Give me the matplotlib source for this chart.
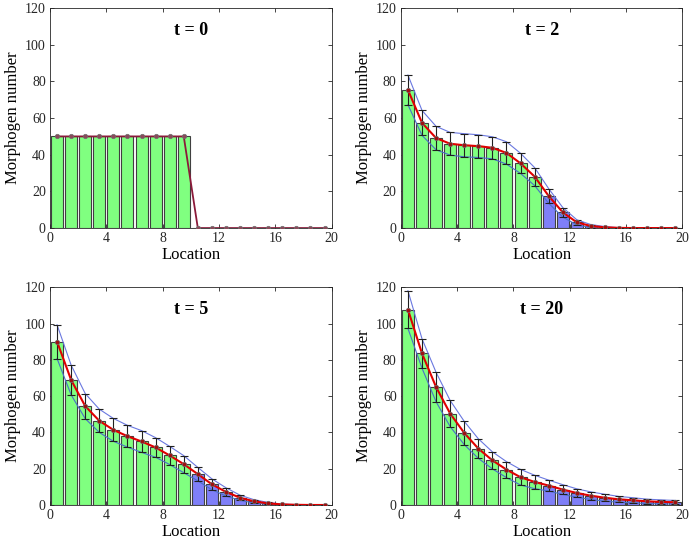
import matplotlib

matplotlib.use("Agg")

import matplotlib.pyplot as plt
import numpy as np

plt.rcParams["font.family"] = ["Liberation Serif", "DejaVu Serif"]

location = np.arange(20) + 0.5
n_green = 10

titles = ["t = 0", "t = 2", "t = 5", "t = 20"]

mean_t0 = [50] * 10 + [0] * 10
sd_t0 = [0] * 20

mean_t2 = [75.4, 57.4, 49.1, 46.0, 45.2, 44.7, 43.8, 41.0, 35.3, 28.1,
           17.5, 8.6, 3.1, 1.1, 0.4, 0.1, 0, 0, 0, 0]
sd_t2 = [8.1, 6.8, 6.4, 6.2, 6.3, 6.2, 6.0, 6.1, 5.5, 4.9,
         4.0, 2.6, 1.4, 0.8, 0.4, 0.1, 0, 0, 0, 0]

mean_t5 = [90.0, 68.9, 54.5, 46.4, 41.4, 37.9, 35.0, 31.7, 27.3, 22.5,
           17.0, 11.4, 7.2, 4.0, 2.0, 0.9, 0.3, 0.1, 0, 0]
sd_t5 = [9.3, 8.2, 6.9, 6.4, 6.3, 6.0, 6.0, 5.4, 5.0, 4.7,
         3.7, 3.0, 2.3, 1.4, 0.9, 0.5, 0.2, 0.1, 0, 0]

mean_t20 = [107.7, 83.5, 65.0, 50.4, 39.7, 31.1, 24.6, 19.5, 15.3, 12.7,
            10.7, 8.5, 6.6, 5.1, 4.0, 3.1, 2.6, 2.0, 1.7, 1.5]
sd_t20 = [10.4, 8.1, 8.1, 7.2, 6.4, 5.4, 4.7, 4.4, 4.3, 3.7,
          3.0, 2.7, 2.3, 2.1, 1.9, 1.6, 1.4, 1.2, 1.1, 1.0]

means = [mean_t0, mean_t2, mean_t5, mean_t20]
sds = [sd_t0, sd_t2, sd_t5, sd_t20]

positions = [
    [0.0725, 0.580, 0.408, 0.405],
    [0.581, 0.580, 0.408, 0.405],
    [0.0725, 0.070, 0.408, 0.401],
    [0.581, 0.070, 0.408, 0.401],
]

GREEN = "#80ff80"
BLUE = "#7f7ff8"
EDGE = "#404040"

fig = plt.figure(figsize=(6.9, 5.43), dpi=100)

for pos, title, m, s in zip(positions, titles, means, sds):
    ax = fig.add_axes(pos)
    m = np.asarray(m, dtype=float)
    s = np.asarray(s, dtype=float)
    colors = [GREEN] * n_green + [BLUE] * (len(m) - n_green)
    ax.bar(location, m, width=0.85, color=colors, edgecolor=EDGE, linewidth=0.8, zorder=2)

    if s.any():
        ax.plot(location, m + s, color="#6a78e0", linewidth=0.8, zorder=3)
        ax.plot(location, m - s, color="#4a70c8", linewidth=0.8, zorder=3)
        ax.errorbar(location, m, yerr=s, fmt="none", ecolor="#202020",
                    elinewidth=0.8, capsize=3, capthick=0.8, zorder=4)
        ax.plot(location, m, color="#e00000", linewidth=1.5, zorder=5)
        ax.plot(location, m, "o", markersize=3.2, markerfacecolor="#a01010",
                markeredgecolor="#707070", markeredgewidth=0.5, zorder=6)
    else:
        ax.plot(location, m, color="#8b1a3a", linewidth=1.3, zorder=5)
        ax.plot(location, m, "o", markersize=3.2, markerfacecolor="#8b4a5a",
                markeredgecolor="#707070", markeredgewidth=0.5, zorder=6)

    ax.set_xlim(0, 20)
    ax.set_ylim(0, 120)
    ax.set_xticks([0, 4, 8, 12, 16, 20])
    ax.set_yticks([0, 20, 40, 60, 80, 100, 120])
    ax.tick_params(direction="in", top=True, right=True, length=3, width=0.6,
                   labelsize=10, colors="#262626", pad=3)
    for sp in ax.spines.values():
        sp.set_linewidth(0.6)
        sp.set_color("#262626")
    ax.set_xlabel("Location", fontsize=12, labelpad=1)
    ax.set_ylabel("Morphogen number", fontsize=12, labelpad=3)
    ax.text(0.5, 0.9, title, transform=ax.transAxes, ha="center", va="center",
            fontsize=13, fontweight="bold")

fig.savefig("out.png", dpi=100)
plt.close(fig)
